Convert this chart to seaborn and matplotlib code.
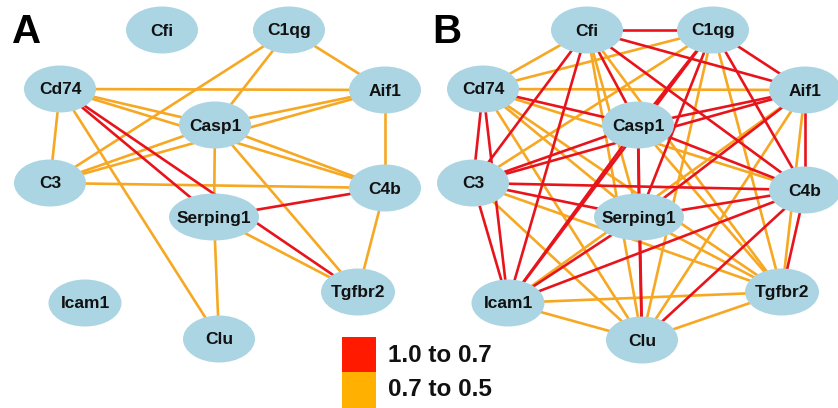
import matplotlib
matplotlib.use("Agg")
import matplotlib.pyplot as plt
from matplotlib.patches import Ellipse, Rectangle
import seaborn as sns
import pandas as pd

# node layout (pixel positions), panel A and B
genes = ["Cfi", "C1qg", "Cd74", "Aif1", "Casp1", "C3", "C4b", "Serping1", "Tgfbr2", "Icam1", "Clu"]
ax_x = [162, 289, 60, 385, 215, 50, 385, 214, 358, 85, 219]
ax_y = [30, 30, 89, 90, 125, 183, 188, 217, 292, 303, 339]
bx_x = [587, 713, 483, 805, 638, 473, 805, 639, 782, 508, 642]
bx_y = [30, 30, 89, 90, 125, 183, 190, 217, 292, 303, 340]
node_w = [72, 72, 72, 72, 72, 72, 72, 90, 74, 73, 72]

# correlation edges, "hi" = 1.0 to 0.7, "lo" = 0.7 to 0.5
edges_a_hi = [("Cd74", "Serping1"), ("Cd74", "Tgfbr2"), ("Serping1", "C4b")]
edges_a_lo = [("C1qg", "Aif1"), ("C1qg", "C3"), ("C1qg", "Casp1"), ("Cd74", "Aif1"),
              ("Cd74", "Casp1"), ("Cd74", "C3"), ("Cd74", "C4b"), ("Cd74", "Clu"),
              ("Aif1", "Casp1"), ("Aif1", "C3"), ("Aif1", "C4b"), ("Casp1", "C3"),
              ("Casp1", "C4b"), ("Casp1", "Serping1"), ("Casp1", "Tgfbr2"), ("C3", "C4b"),
              ("Serping1", "Tgfbr2"), ("Serping1", "Clu"), ("C4b", "Tgfbr2")]

edges_b_hi = [("Cfi", "C1qg"), ("Cfi", "Aif1"), ("Cfi", "C3"), ("Cfi", "Casp1"), ("Cfi", "C4b"),
              ("Cfi", "Icam1"), ("C1qg", "Aif1"), ("C1qg", "Casp1"), ("C1qg", "C4b"),
              ("C1qg", "Serping1"), ("C1qg", "Icam1"), ("Cd74", "Casp1"), ("Cd74", "C3"),
              ("Cd74", "Icam1"), ("Aif1", "Casp1"), ("Aif1", "C3"), ("Aif1", "C4b"),
              ("Aif1", "Serping1"), ("Casp1", "C3"), ("Casp1", "C4b"), ("Casp1", "Serping1"),
              ("Casp1", "Icam1"), ("Casp1", "Clu"), ("C3", "C4b"), ("C3", "Serping1"),
              ("C3", "Icam1"), ("C4b", "Serping1"), ("C4b", "Tgfbr2"), ("C4b", "Icam1"),
              ("C4b", "Clu"), ("Serping1", "Icam1"), ("Serping1", "Clu")]
edges_b_lo = [("Cfi", "Cd74"), ("Cfi", "Serping1"), ("Cfi", "Tgfbr2"), ("Cfi", "Clu"),
              ("C1qg", "Cd74"), ("C1qg", "C3"), ("C1qg", "Tgfbr2"), ("C1qg", "Clu"),
              ("Cd74", "Aif1"), ("Cd74", "C4b"), ("Cd74", "Serping1"), ("Cd74", "Tgfbr2"),
              ("Cd74", "Clu"), ("Aif1", "Tgfbr2"), ("Aif1", "Icam1"), ("Aif1", "Clu"),
              ("Casp1", "Tgfbr2"), ("C3", "Tgfbr2"), ("C3", "Clu"), ("Serping1", "Tgfbr2"),
              ("Tgfbr2", "Icam1"), ("Tgfbr2", "Clu"), ("Icam1", "Clu")]

legend_labels = ["1.0 to 0.7", "0.7 to 0.5"]
red = "#e8141c"
orange = "#f7a823"


def edge_frame(xs, ys, hi, lo, tag):
    pos = {g: (x, y) for g, x, y in zip(genes, xs, ys)}
    rows = []
    for cls, lst in (("lo", lo), ("hi", hi)):
        for i, (a, b) in enumerate(lst):
            for g in (a, b):
                rows.append({"edge": f"{tag}{cls}{i}", "cls": cls,
                             "x": pos[g][0], "y": pos[g][1]})
    return pd.DataFrame(rows)


df = pd.concat([edge_frame(ax_x, ax_y, edges_a_hi, edges_a_lo, "A"),
                edge_frame(bx_x, bx_y, edges_b_hi, edges_b_lo, "B")])

sns.set_theme(style="white")
plt.rcParams["font.family"] = ["Liberation Sans", "DejaVu Sans"]

fig = plt.figure(figsize=(8.38, 4.08), dpi=100)
ax = fig.add_axes([0, 0, 1, 1])

sns.lineplot(data=df, x="x", y="y", units="edge", estimator=None, sort=False,
             hue="cls", hue_order=["lo", "hi"], palette={"lo": orange, "hi": red},
             linewidth=1.9, legend=False, ax=ax, zorder=1)

for xs, ys in ((ax_x, ax_y), (bx_x, bx_y)):
    for g, x, y, w in zip(genes, xs, ys, node_w):
        ax.add_patch(Ellipse((x, y), w, 47, facecolor="#abd5e3", edgecolor="none", zorder=2))
        ax.text(x, y + 1, g, ha="center", va="center", fontsize=12.5,
                fontweight="bold", color="#111111", zorder=3)

ax.text(12, 43, "A", fontsize=29, fontweight="bold", color="black")
ax.text(432, 43, "B", fontsize=29, fontweight="bold", color="black")

# legend
ax.add_patch(Rectangle((342, 337), 34, 35, facecolor="#ff1a00", edgecolor="none", zorder=4))
ax.add_patch(Rectangle((342, 372), 34, 40, facecolor="#ffb000", edgecolor="none", zorder=4))
ax.text(388, 355, legend_labels[0], fontsize=17.5, fontweight="bold", va="center", color="#111111")
ax.text(388, 390, legend_labels[1], fontsize=17.5, fontweight="bold", va="center", color="#111111")

ax.set_xlim(0, 838)
ax.set_ylim(408, 0)
ax.axis("off")

fig.savefig("out.png", dpi=100)
